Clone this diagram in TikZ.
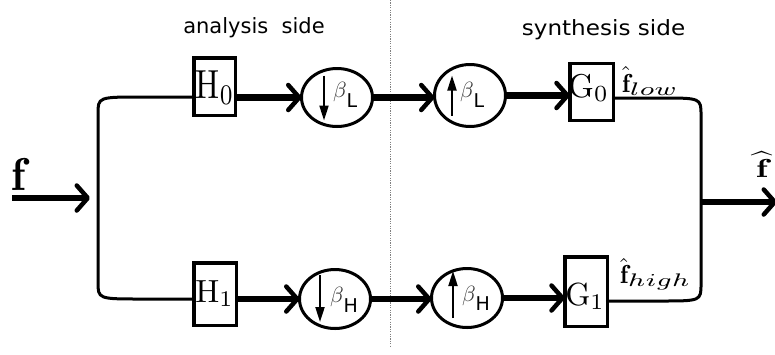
\documentclass[tikz,border=0pt]{standalone}
\usepackage{fontspec}
\setsansfont{DejaVu Sans}
\usepackage{graphicx}
\usetikzlibrary{arrows.meta,shapes.geometric,calc}
\newcommand\msc[3]{\scalebox{#1}[#2]{$#3$}}
\newcommand\mybeta[1]{{\color{black!80}\msc{2.2}{2.2}{\beta}}\raisebox{-9.5pt}{\fontsize{19}{19}\selectfont\sffamily #1}}
\begin{document}
\begin{tikzpicture}[x=1pt,y=-1pt,
  thinline/.style={line width=3pt, line cap=round, line join=round},
  bigarrow/.style={line width=6.5pt, -{Straight Barb[length=11pt,width=25pt,line width=4.5pt 0,round]}},
  filterbox/.style={draw, line width=3.5pt, inner sep=0pt, outer sep=0pt},
  ell/.style={draw, ellipse, line width=3pt, minimum width=71pt, inner sep=0pt, outer sep=0pt},
  inarrow/.style={line width=2pt, -{Triangle[length=15pt,width=9pt]}},
  sidelab/.style={font=\fontsize{21}{24}\selectfont\sffamily, anchor=base, inner sep=0pt},
  txt/.style={inner sep=0pt, outer sep=0pt},
  divider/.style={line width=1.2pt, black!50, dash pattern=on 1.2pt off 1.2pt}
]
\useasboundingbox (0,0) rectangle (775,354);

% divider
\coordinate (dtop) at (390.5,0);
\coordinate (dbot) at (390.5,347);
\draw[divider] (dtop) -- (dbot);

% side labels
\node[sidelab] (anal) at (254,33) {analysis\ \ side};
\node[sidelab] (synt) at (603.5,35) {\scalebox{1.1}[1]{synthesis side}};

% filter boxes
\node[filterbox, minimum width=41.5pt, minimum height=57.5pt] (H0) at (214.5,86.5) {};
\node[filterbox, minimum width=42.5pt, minimum height=62.5pt] (H1) at (215,294) {};
\node[filterbox, minimum width=43.5pt, minimum height=57pt] (G0) at (591.5,92) {};
\node[filterbox, minimum width=42.5pt, minimum height=69.5pt] (G1) at (586,291.5) {};

\node[txt, anchor=base] (H0t) at (215,98) {\msc{3.2}{4.06}{\mathrm{H}_0}};
\node[txt, anchor=base] (H1t) at (214.5,302) {\msc{3.2}{3.2}{\mathrm{H}_1}};
\node[txt, anchor=base] (G0t) at (588.5,97) {\msc{3.3}{3.3}{\mathrm{G}_0}};
\node[txt, anchor=base] (G1t) at (585,305) {\msc{3.2}{3.2}{\mathrm{G}_1}};

% sampling ellipses
\node[ell, minimum height=58pt] (dL) at (337,97.5) {};
\node[ell, minimum height=59pt] (dH) at (335,299) {};
\node[ell, minimum height=62pt] (uL) at (470,95.5) {};
\node[ell, minimum height=59pt] (uH) at (467,298) {};

\draw[inarrow] ($(dL)+(-13,-22)$) coordinate (dLa) -- ($(dL)+(-13,23)$) coordinate (dLb);
\draw[inarrow] ($(dH)+(-15,-24)$) coordinate (dHa) -- ($(dH)+(-15,23)$) coordinate (dHb);
\draw[inarrow] ($(uL)+(-18,20)$) coordinate (uLa) -- ($(uL)+(-18,-20)$) coordinate (uLb);
\draw[inarrow] ($(uH)+(-14,20)$) coordinate (uHa) -- ($(uH)+(-14,-27)$) coordinate (uHb);

\node[txt, anchor=base west] (dLt) at ($(dL)+(-4,0)$) {\mybeta{L}};
\node[txt, anchor=base west] (dHt) at ($(dH)+(-5,3.5)$) {\mybeta{H}};
\node[txt, anchor=base west] (uLt) at ($(uL)+(-10,2)$) {\mybeta{L}};
\node[txt, anchor=base west] (uHt) at ($(uH)+(-5,3)$) {\mybeta{H}};

% thick arrows in rows
\draw[bigarrow] (H0.east |- dL.west) -- (dL.west);
\draw[bigarrow] (dL.east) -- (dL.east -| uL.west);
\draw[bigarrow] (uL.east) -- (uL.east -| G0.west);
\draw[bigarrow] (H1.east |- dH.west) -- (dH.west);
\draw[bigarrow] (dH.east) -- (dH.east -| uH.west);
\draw[bigarrow] (uH.east) -- (uH.east -| G1.west);

% input split
\coordinate (ltc) at (98,97);
\coordinate (lbc) at (98,299);
\coordinate (fin) at (12,198);
\coordinate (split) at (90,198);
\draw[thinline] (H0.west |- ltc) -- ($(ltc)+(44,0)$) .. controls (ltc) .. ($(ltc)+(0,17)$)
  -- ($(lbc)+(0,-17)$) .. controls (lbc) .. ($(lbc)+(44,0)$) -- (H1.west |- lbc);
\draw[bigarrow] (fin) -- (split);

% output merge
\coordinate (rtc) at (701,98);
\coordinate (rbc) at (701,301);
\coordinate (outs) at (702,202);
\coordinate (oute) at (777,202);
\draw[thinline] (G0.east |- rtc) -- ($(rtc)+(-41,0)$) .. controls (rtc) .. ($(rtc)+(0,17)$)
  -- ($(rbc)+(0,-17)$) .. controls (rbc) .. ($(rbc)+(-41,0)$) -- (G1.east |- rbc);
\draw[bigarrow] (outs) -- (oute);

% signal labels
\node[txt, anchor=base west] (flab) at (12,190) {\msc{4.6}{4.6}{\mathbf{f}}};
\node[txt, anchor=base] (fhat) at (762,177) {\msc{3.77}{2.6}{\widehat{\mathbf{f}}}};
\node[txt, anchor=base west] (flow) at (622,92) {\scalebox{2.6}{$\hat{\mathbf{f}}_{\scalebox{1.45}[1]{$\scriptstyle low$}}$}};
\node[txt, anchor=base west] (fhigh) at (620,283) {\scalebox{2.6}{$\hat{\mathbf{f}}_{\scalebox{1.45}[1]{$\scriptstyle high$}}$}};
\end{tikzpicture}
\end{document}
